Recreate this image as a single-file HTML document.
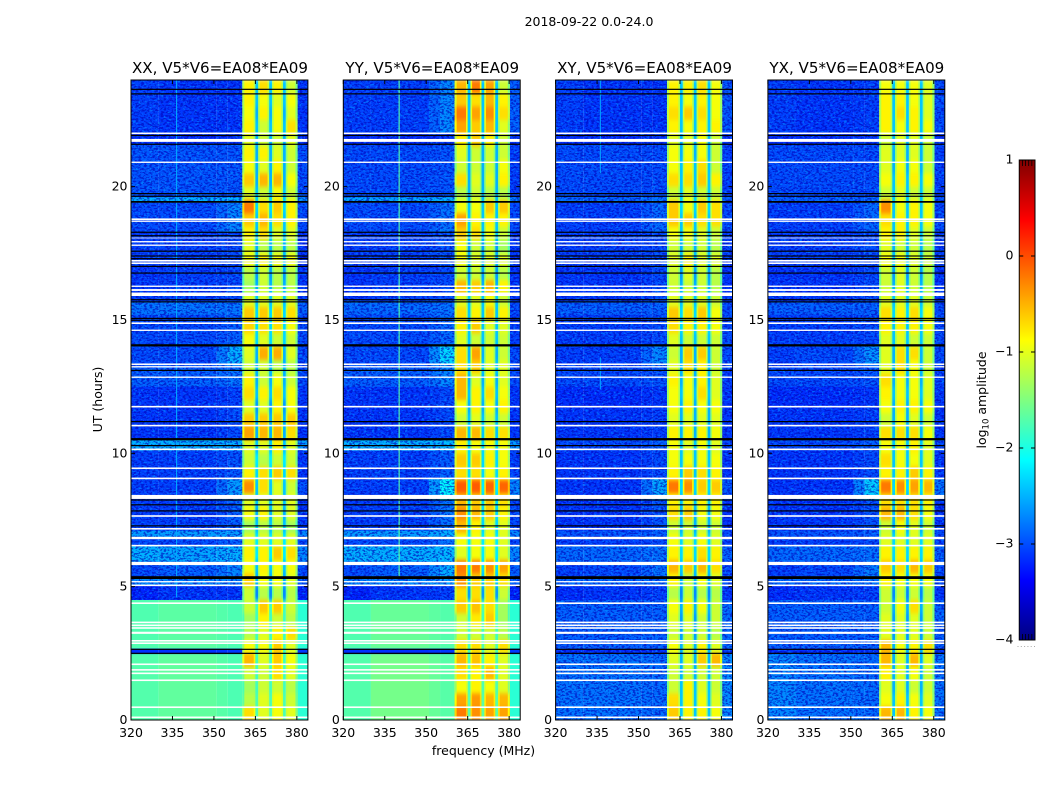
<!DOCTYPE html>
<html lang="en">
<head>
<meta charset="utf-8">
<title>2018-09-22 0.0-24.0</title>
<style>
html,body{margin:0;padding:0;background:#fff;}
svg{display:block;}
text{font-family:"DejaVu Sans","Liberation Sans",sans-serif;fill:#000;}
</style>
</head>
<body>
<svg id="figure" xmlns="http://www.w3.org/2000/svg" width="1050" height="800" viewBox="0 0 1050 800">
  <defs>
    <filter id="speckle-light" x="0" y="0" width="1" height="1" color-interpolation-filters="sRGB">
      <feTurbulence type="fractalNoise" baseFrequency="0.36 0.58" numOctaves="2" seed="7"/>
      <feColorMatrix type="matrix" values="0 0 0 0 0  0 0 0 0 0.62  0 0 0 0 1  8 0 0 0 -4.5"/>
    </filter>
    <filter id="speckle-dark" x="0" y="0" width="1" height="1" color-interpolation-filters="sRGB">
      <feTurbulence type="fractalNoise" baseFrequency="0.36 0.58" numOctaves="2" seed="23"/>
      <feColorMatrix type="matrix" values="0 0 0 0 0  0 0 0 0 0  0 0 0 0 0.72  0 8 0 0 -3.9"/>
    </filter>
    <filter id="soften" x="0" y="0" width="1" height="1" color-interpolation-filters="sRGB">
      <feGaussianBlur stdDeviation="0 2" edgeMode="duplicate"/>
    </filter>
    <linearGradient id="jet-gradient" x1="0" y1="1" x2="0" y2="0"></linearGradient>
  </defs>
  <text x="589" y="26" font-size="12.5" text-anchor="middle">2018-09-22 0.0-24.0</text>
  <text x="483.5" y="755" font-size="12.5" text-anchor="middle">frequency (MHz)</text>
  <text x="0" y="0" font-size="12.5" text-anchor="middle" transform="translate(102 399.5) rotate(-90)">UT (hours)</text>
  <text x="0" y="0" font-size="12.5" text-anchor="middle" transform="translate(986 400) rotate(-90)">log<tspan font-size="8.5" dy="2.5">10</tspan><tspan dy="-2.5"> amplitude</tspan></text>
  <g id="panels"></g>
  <g id="colorbar"></g>
</svg>
<script>
// ---------- axis tick labels ----------
const freqTicks = [320, 335, 350, 365, 380];
const hourTicks = [0, 5, 10, 15, 20];
const colorbarTicks = [1, 0, -1, -2, -3, -4];

// ---------- background time bands (hours, bottom-up edges) ----------
const bandEdges = [0,2.47,2.68,4.5,5.05,5.3,5.8,5.95,6.55,6.8,7.1,8.25,9.05,10.1,10.5,11.7,12.5,13.3,14.05,15.2,15.7,17,18.3,19.4,19.6,21.6,22,24];

// Background level per band: [320-330, 330-351, 355-360, 380-384 MHz], log10 amplitude
const xxBands = [
[-1.72,-1.65,-1.75,-1.92],[-3.15,-3.15,-3.1,-3.1],[-1.74,-1.68,-1.75,-1.92],[-3.2,-3.1,-3.1,-3.2],[-2.7,-2.7,-2.7,-2.9],
[-3.0,-2.9,-2.7,-3.0],[-2.7,-2.7,-2.7,-2.8],[-2.5,-2.55,-2.5,-2.7],[-3.0,-3.0,-2.9,-3.0],[-2.6,-2.6,-2.6,-2.7],
[-3.05,-3.05,-2.9,-3.1],[-3.05,-3.05,-2.6,-3.0],[-3.05,-3.05,-2.95,-3.1],[-2.5,-2.5,-2.5,-2.6],[-3.1,-3.1,-3.0,-3.1],
[-3.1,-3.1,-3.05,-3.1],[-2.9,-2.9,-2.8,-3.0],[-3.0,-3.0,-2.5,-3.0],[-3.0,-3.0,-2.9,-3.0],[-2.8,-2.8,-2.8,-2.9],
[-3.1,-3.05,-3.0,-3.1],[-3.05,-3.05,-3.0,-3.1],[-3.0,-3.0,-2.7,-3.0],[-2.5,-2.5,-2.5,-2.6],[-2.95,-2.95,-2.95,-3.0],
[-3.15,-3.15,-3.1,-3.1],[-3.05,-3.1,-3.1,-3.1]];
const yyBands = [
[-1.72,-1.55,-1.7,-1.92],[-3.15,-3.15,-3.1,-3.1],[-1.74,-1.62,-1.72,-1.92],[-3.2,-3.1,-3.05,-3.2],[-2.7,-2.7,-2.6,-2.9],
[-3.0,-2.9,-2.5,-2.9],[-2.7,-2.7,-2.6,-2.8],[-2.5,-2.5,-2.45,-2.7],[-3.0,-3.0,-2.8,-3.0],[-2.6,-2.6,-2.5,-2.7],
[-3.05,-3.05,-2.8,-3.0],[-3.05,-3.05,-2.15,-2.7],[-3.05,-3.05,-2.9,-3.05],[-2.5,-2.5,-2.45,-2.6],[-3.1,-3.1,-3.0,-3.1],
[-3.1,-3.1,-3.0,-3.1],[-2.9,-2.9,-2.7,-3.0],[-3.0,-3.0,-2.3,-3.0],[-3.0,-3.0,-2.85,-3.05],[-2.85,-2.85,-2.8,-3.0],
[-3.1,-3.05,-3.0,-3.1],[-3.05,-3.05,-2.95,-3.1],[-3.0,-3.0,-2.8,-3.0],[-2.55,-2.55,-2.5,-2.7],[-3.0,-3.0,-2.95,-3.05],
[-3.15,-3.15,-3.1,-3.1],[-3.05,-3.05,-2.7,-2.9]];
const xyBands = [
[-2.8,-2.8,-2.85,-2.7],[-3.15,-3.15,-3.1,-3.1],[-2.9,-2.9,-2.9,-2.85],[-3.15,-3.1,-3.05,-3.1],[-2.85,-2.85,-2.8,-2.95],
[-3.05,-3.0,-2.8,-3.0],[-2.9,-2.9,-2.8,-2.9],[-2.85,-2.85,-2.8,-2.9],[-3.05,-3.05,-3.0,-3.05],[-2.95,-2.95,-2.9,-3.0],
[-3.1,-3.1,-2.95,-3.1],[-3.1,-3.1,-2.55,-2.95],[-3.1,-3.1,-3.0,-3.1],[-3.0,-3.0,-2.9,-3.0],[-3.1,-3.1,-3.05,-3.1],
[-3.15,-3.15,-3.1,-3.1],[-3.0,-3.0,-2.95,-3.05],[-3.05,-3.05,-2.7,-3.0],[-3.05,-3.05,-3.0,-3.0],[-2.9,-2.9,-2.9,-3.0],
[-3.1,-3.1,-3.0,-3.1],[-3.05,-3.05,-3.0,-3.05],[-3.05,-3.05,-2.85,-3.0],[-2.85,-2.85,-2.8,-2.9],[-3.0,-3.0,-3.0,-3.05],
[-3.15,-3.15,-3.1,-3.1],[-3.05,-3.1,-3.1,-2.95]];
const yxBands = [
[-2.7,-2.8,-2.85,-2.8],[-3.15,-3.15,-3.1,-3.1],[-2.9,-2.9,-2.9,-2.9],[-3.15,-3.1,-3.05,-3.1],[-2.85,-2.85,-2.8,-2.95],
[-3.05,-3.0,-2.75,-3.0],[-2.9,-2.9,-2.8,-2.9],[-2.85,-2.85,-2.8,-2.9],[-3.05,-3.05,-3.0,-3.05],[-2.95,-2.95,-2.9,-3.0],
[-3.1,-3.1,-2.95,-3.1],[-3.1,-3.1,-2.35,-2.8],[-3.1,-3.1,-3.0,-3.1],[-3.0,-3.0,-2.9,-3.0],[-3.1,-3.1,-3.05,-3.1],
[-3.15,-3.15,-3.1,-3.1],[-3.0,-3.0,-2.95,-3.05],[-3.05,-3.0,-2.65,-3.0],[-3.05,-3.05,-3.0,-3.0],[-2.9,-2.9,-2.9,-3.0],
[-3.1,-3.1,-3.0,-3.1],[-3.05,-3.05,-3.0,-3.05],[-3.05,-3.05,-2.85,-3.0],[-2.9,-2.9,-2.85,-2.95],[-3.0,-3.0,-3.0,-3.05],
[-3.15,-3.15,-3.1,-3.1],[-3.05,-3.1,-3.05,-3.0]];

// ---------- bright subbands, half-hour rows from 0 h upward ----------
// Each row: [360-365, 366-370, 371-375, 376-380 MHz]
const xxSubbands = [
[-.5,-.8,-.7,-.8],[-1,-.8,-.7,-.9],[-1.1,-.9,-.9,-1],[-.9,-.9,-.5,-.8],[-.3,-.8,-.4,-.7],[-.7,-.7,-.4,-.8],
[-1,-.8,-.6,-.5],[-1.1,-.6,-.9,-1],[-.9,-.4,-.4,-.9],[-.9,-1,-1,-1],[-.4,-.7,-.7,-.8],[-.7,-.6,-.7,-.7],
[-.6,-.6,-.4,-.5],[-.8,-.8,-.8,-.8],[-1.1,-1,-1,-1.1],[-.7,-.6,-.8,-.8],[-.8,-.8,-.8,-.8],[-.1,-.5,-.8,-.9],
[-.6,-.5,-.4,-.5],[-.9,-1,-.9,-.9],[-.8,-.8,-.6,-.8],[-.2,-.3,-.3,-.5],[-.4,-.4,-.4,-.4],[-.8,-.8,-.6,-.7],
[-.5,-.6,-.5,-.7],[-.6,-.9,-.7,-.9],[-.9,-.9,-1,-1],[-.8,-.25,-.25,-.8],[-.7,-.8,-.9,-.9],[-.45,-.5,-.5,-.7],
[-.4,-.4,-.4,-.5],[-.8,-.8,-.8,-.8],[-1.1,-.9,-1,-1],[-1,-.9,-1,-1],[-.7,-.6,-.7,-.7],[-.8,-1,-1,-1],
[-.6,-.5,-.8,-.8],[-.4,-.3,-.5,-.6],[0,-.5,-.4,-.6],[-.8,-.9,-.7,-.9],[-.4,-.3,-.3,-.7],[-.7,-.8,-.6,-.9],
[-.6,-.6,-.8,-.9],[-.8,-.9,-.9,-.8],[-.6,-.9,-.7,-.5],[-.7,-.6,-.7,-.8],[-.6,-.7,-.8,-.7],[-.6,-.5,-.6,-.9]];
const yySubbands = [
[0,-.1,-.2,-.2],[-.2,-.15,-.3,-.3],[-.7,-.6,-.7,-.8],[-.5,-.6,-.3,-.8],[-.3,-.35,-.6,-.8],[-.5,-.5,-.8,-.5],
[-.9,-.9,-.9,-1],[-.9,-.55,-.4,-1.1],[-.4,-.35,-.5,-1.1],[-.5,-.5,-.5,-.9],[-.1,-.4,-.4,-.5],[0,0,-.1,-.2],
[-.8,-.7,-.7,-.8],[-.7,-.7,-.7,-.8],[-.3,-.6,-.8,-.8],[-.1,-.3,-.4,-.6],[-.3,-.4,-.4,-.5],[.15,.15,.1,.1],
[-.5,-.5,-.7,-.6],[-.4,-.4,-.6,-.7],[-.6,-.7,-.7,-.7],[-.3,-.3,-.5,-.5],[-.9,-.8,-.9,-.9],[-.7,-.6,-.7,-.6],
[-.3,-.6,-.5,-.7],[-.3,-.8,-.7,-.8],[-.5,-.4,-.8,-.8],[-.5,-.2,-.8,-.9],[-.8,-.9,-.9,-.9],[-.6,-.4,-.8,-.8],
[-.5,-.6,-.4,-.6],[-.8,-.8,-.7,-.9],[-.3,-.4,-.3,-.6],[-.9,-.9,-.9,-1],[-.7,-.8,-.8,-.8],[-.7,-.9,-.9,-1.1],
[-.4,-.5,-.7,-.9],[-.2,-.6,-.6,-.6],[-.7,-.7,-.4,-.4],[-1,-.9,-1,-1],[-.5,-.8,-.8,-.6],[-.9,-.9,-.9,-.7],
[-.8,-.9,-.9,-.9],[-.6,-.4,-.6,-.9],[-.2,-.4,-.3,-.8],[0,-.2,-.1,-.5],[-.4,-.5,-.3,-.6],[-.3,0,-.2,-.9]];
const xySubbands = [
[-.4,-.6,-.6,-.7],[-.5,-.6,-.7,-.8],[-.9,-.6,-.8,-.9],[-.9,-.9,-.9,-.9],[-.8,-.8,-.4,-.3],[-.7,-.8,-.6,-.8],
[-.9,-.9,-.9,-1],[-.8,-.8,-.9,-.9],[-.7,-.6,-.7,-.9],[-1,-.9,-1,-1],[-.6,-.9,-.7,-.8],[-.3,-.4,-.3,-.5],
[-.6,-.6,-.5,-.6],[-.7,-.8,-.7,-.8],[-.9,-.9,-.9,-.9],[-.5,-.4,-.7,-.7],[-.6,-.6,-.6,-.6],[0,-.1,-.4,-.4],
[-.6,-.4,-.5,-.6],[-.7,-.7,-.7,-.7],[-.7,-.8,-.7,-.8],[-.6,-.6,-.6,-.7],[-.8,-.8,-.8,-.8],[-.7,-.6,-.7,-.7],
[-.7,-.7,-.5,-.8],[-.6,-.7,-.6,-.8],[-.8,-.5,-.6,-.9],[-.9,-.4,-.4,-.9],[-.8,-.9,-.9,-.9],[-.5,-.6,-.6,-.7],
[-.4,-.5,-.4,-.7],[-.8,-.8,-.8,-.9],[-.9,-.9,-.9,-1],[-.9,-.8,-.9,-1],[-.8,-.6,-.8,-.8],[-.9,-.9,-.9,-1],
[-.7,-.7,-.8,-.9],[-.4,-.4,-.5,-.5],[-.4,-.7,-.4,-.5],[-.9,-.8,-.9,-.9],[-.5,-.5,-.4,-.6],[-.7,-.6,-.5,-.9],
[-.7,-.7,-.7,-.9],[-.8,-.8,-.7,-.9],[-.6,-.7,-.6,-.6],[-.5,-.4,-.5,-.7],[-.6,-.7,-.6,-.7],[-.6,-.6,-.5,-.7]];
const yxSubbands = [
[-.3,-.3,-.6,-.7],[-.7,-.6,-.7,-.8],[-.8,-.8,-.9,-.9],[-.6,-.8,-.7,-.9],[-.3,-.8,-.3,-.8],[-.3,-.7,-.6,-.5],
[-.8,-.8,-.8,-.9],[-.8,-.8,-.8,-.9],[-.9,-.7,-.5,-.9],[-.9,-.9,-.9,-1],[-.6,-.7,-.7,-.7],[-.4,-.5,-.3,-.4],
[-.6,-.6,-.6,-.6],[-.8,-.8,-.8,-.8],[-.9,-.7,-.8,-.9],[-.3,-.3,-.5,-.7],[-.5,-.5,-.5,-.6],[0,-.1,-.2,-.3],
[-.6,-.6,-.4,-.6],[-.5,-.7,-.7,-.8],[-.7,-.7,-.6,-.8],[-.5,-.5,-.5,-.7],[-.9,-.7,-.8,-.9],[-.7,-.6,-.6,-.7],
[-.6,-.7,-.7,-.8],[-.5,-.7,-.7,-.8],[-.8,-.5,-.7,-.9],[-.8,-.5,-.5,-.9],[-.8,-.8,-.9,-.9],[-.6,-.6,-.6,-.7],
[-.5,-.6,-.5,-.7],[-.8,-.8,-.8,-.9],[-.9,-.8,-.9,-1],[-.9,-.8,-.9,-1],[-.7,-.7,-.8,-.9],[-.8,-.9,-.9,-1],
[-.6,-.6,-.8,-.9],[-.5,-.6,-.6,-.7],[-.1,-.7,-.6,-.7],[-.9,-.8,-.9,-.9],[-.7,-.6,-.6,-.7],[-.8,-.7,-.7,-.9],
[-.8,-.8,-.8,-.9],[-.9,-.8,-.8,-.9],[-.6,-.7,-.6,-.7],[-.6,-.5,-.6,-.8],[-.6,-.6,-.7,-.8],[-.7,-.7,-.7,-.8]];

// Level of the dark channels at 365, 370 and 375 MHz, half-hour rows from 0 h upward
const xxNotch = [-1.75,-1.75,-1.8,-1.8,-1.8,-1.8,-1.8,-1.8,-1.8,-2.7,-2.5,-2.4,-2.2,-2.2,-2.4,-2.5,-2.4,-2.4,-2.3,-2.2,-2.4,-2.5,-2.5,-2.6,-2.4,-2.5,-2.5,-2.5,-2.3,-2.3,-2.3,-2.4,-2.5,-2.6,-2.4,-2.5,-2.4,-2.4,-2.3,-2.4,-2.5,-2.5,-2.5,-2.5,-2.4,-2.5,-2.4,-2.4];
const yyNotch = [-1.7,-1.7,-1.75,-1.75,-1.75,-1.75,-1.8,-1.8,-1.75,-2.6,-2.4,-2.3,-2.2,-2.2,-2.3,-2.3,-2.3,-2.2,-2.3,-2.3,-2.3,-2.4,-2.4,-2.5,-2.4,-2.5,-2.4,-2.5,-2.4,-2.4,-2.4,-2.4,-2.5,-2.6,-2.5,-2.6,-2.4,-2.4,-2.4,-2.5,-2.5,-2.5,-2.5,-2.5,-2.4,-2.4,-2.4,-2.4];
const xyNotch = [-2.4,-2.4,-2.4,-2.5,-2.5,-2.5,-2.6,-2.6,-2.5,-2.7,-2.5,-2.4,-2.3,-2.3,-2.5,-2.5,-2.4,-2.3,-2.4,-2.4,-2.4,-2.5,-2.5,-2.5,-2.4,-2.5,-2.5,-2.5,-2.4,-2.3,-2.3,-2.4,-2.5,-2.6,-2.4,-2.5,-2.4,-2.4,-2.3,-2.4,-2.4,-2.4,-2.5,-2.5,-2.4,-2.4,-2.4,-2.4];
const yxNotch = [-2.4,-2.4,-2.5,-2.5,-2.5,-2.5,-2.6,-2.6,-2.5,-2.7,-2.5,-2.4,-2.3,-2.3,-2.5,-2.5,-2.4,-2.3,-2.4,-2.4,-2.4,-2.5,-2.5,-2.5,-2.4,-2.5,-2.5,-2.5,-2.4,-2.4,-2.3,-2.4,-2.5,-2.6,-2.4,-2.5,-2.4,-2.4,-2.4,-2.4,-2.4,-2.5,-2.5,-2.5,-2.4,-2.4,-2.4,-2.4];

// Narrow interference channels: [MHz, start hour, end hour, level]
const xxSpurs = [[336.3,4.6,24,-2.55]];
const yySpurs = [[340,5.4,24,-1.7]];
const xySpurs = [[336,20.5,24,-2.6],[336,12.4,13.6,-2.6]];
const yxSpurs = [];

// ---------- flagged time ranges, [start hour, end hour] ----------
const blankedRanges = [[.07,.13],[.45,.51],[1.46,1.52],[1.72,1.78],[1.85,1.91],[2.06,2.12],[2.85,2.91],[2.94,3],[3.23,3.31],[3.42,3.48],[3.52,3.58],[3.63,3.69],[4.35,4.41],[5.02,5.08],[5.16,5.21],[5.81,5.93],[6.51,6.57],[6.78,6.87],[7.14,7.2],[7.62,7.68],[8.29,8.44],[9.03,9.09],[9.41,9.47],[10.12,10.18],[11.01,11.07],[11.72,11.78],[12.83,12.88],[13.22,13.27],[13.31,13.37],[14.59,14.64],[14.85,14.91],[15.9,16.03],[16.09,16.16],[16.24,16.29],[17.1,17.16],[17.19,17.25],[17.78,17.83],[17.91,17.96],[18.06,18.09],[18.68,18.73],[18.75,18.81],[20.89,20.94],[21.68,21.79],[21.97,22.03]];
const zeroRanges = [[2.47,2.53],[2.62,2.68],[5.28,5.4],[7.25,7.31],[7.81,7.87],[8.04,8.1],[8.22,8.28],[10.26,10.32],[10.48,10.58],[11.16,11.22],[13.08,13.14],[14,14.1],[14.96,15.02],[15.03,15.09],[15.65,15.71],[15.73,15.79],[16.73,16.79],[16.98,17.04],[17.27,17.33],[17.37,17.43],[17.55,17.61],[18.13,18.19],[18.26,18.32],[19.39,19.47],[19.61,19.67],[19.71,19.77],[21.56,21.62],[21.89,21.95],[23.45,23.51],[23.62,23.68]];

// ---------- panel titles ----------
const panelTitles = ["XX, V5*V6=EA08*EA09","YY, V5*V6=EA08*EA09","XY, V5*V6=EA08*EA09","YX, V5*V6=EA08*EA09"];
const panelKeys = ["xx","yy","xy","yx"];
const panelBands = [xxBands, yyBands, xyBands, yxBands];
const panelSubbands = [xxSubbands, yySubbands, xySubbands, yxSubbands];
const panelNotches = [xxNotch, yyNotch, xyNotch, yxNotch];
const panelSpurs = [xxSpurs, yySpurs, xySpurs, yxSpurs];
const panelSpeckleFrom = [4.5, 4.5, 0, 0];

// ---------- layout ----------
const NS = "http://www.w3.org/2000/svg";
const axTop = 80, axBottom = 720, axWidth = 176.9, axStep = 212.3, axFirst = 131;
const freqMin = 320, freqMax = 384, hourMin = 0, hourMax = 24;
const levelMin = -4, levelMax = 1;
const subbandEdges = [[360.3,365],[366,370],[371,375],[376,380.2]];
const notchEdges = [[365,366],[370,371],[375,376]];
const bgEdges = [[320,330],[330,351],[355,360.3],[380.2,384]];
const blendEdge = [351,355];
const rowHours = 0.5;
const subbandOffset = -0.22;
const flankWidth = 0.6;
const flankMix = 0.35;
const outerEdgeWidth = 0.7;
const outerEdgeDrop = 0.45;

function jetChannel(t, offset){
  return Math.max(0, Math.min(1, 1.5 - Math.abs(4 * t - offset)));
}
function jet(value){
  const t = Math.max(0, Math.min(1, (value - levelMin) / (levelMax - levelMin)));
  const r = Math.round(255 * jetChannel(t, 3));
  const g = Math.round(255 * jetChannel(t, 2));
  const b = Math.round(255 * jetChannel(t, 1));
  return "rgb(" + r + "," + g + "," + b + ")";
}
function make(tag, parent){
  const el = document.createElementNS(NS, tag);
  parent.appendChild(el);
  return el;
}
function place(el, x0, x1, y0, y1, fill){
  el.setAttribute("x", x0);
  el.setAttribute("y", y0);
  el.setAttribute("width", x1 - x0);
  el.setAttribute("height", y1 - y0);
  el.setAttribute("fill", fill);
}

function drawPanel(index){
  const key = panelKeys[index];
  const left = axFirst + axStep * index;
  const xScale = f => left + (f - freqMin) / (freqMax - freqMin) * axWidth;
  const yScale = h => axBottom - (h - hourMin) / (hourMax - hourMin) * (axBottom - axTop);

  const panel = make("g", document.getElementById("panels"));
  
  

  // background cells
  const bg = make("g", panel);
  
  
  panelBands[index].forEach((row, r) => {
    const y0 = yScale(bandEdges[r + 1]) - 0.3;
    const y1 = yScale(bandEdges[r]);
    row.forEach((value, c) => {
      const cell = make("rect", bg);
      
      
      place(cell, xScale(bgEdges[c][0]), xScale(bgEdges[c][1]), y0, y1, jet(value));
    });
    const blend = make("rect", bg);
    
    
    place(blend, xScale(blendEdge[0]), xScale(blendEdge[1]), y0, y1, jet((row[1] + row[2]) / 2));
  });

  // speckle texture over the background
  const tex = make("g", panel);
  
  
  [[320,360.3],[380.2,384]].forEach(span => {
    const light = make("rect", tex);
    
    
    place(light, xScale(span[0]), xScale(span[1]), axTop, yScale(panelSpeckleFrom[index]), "#000");
    light.setAttribute("filter", "url(#speckle-light)");
    light.setAttribute("opacity", "0.5");
    const dark = make("rect", tex);
    
    
    place(dark, xScale(span[0]), xScale(span[1]), axTop, yScale(panelSpeckleFrom[index]), "#000");
    dark.setAttribute("filter", "url(#speckle-dark)");
    dark.setAttribute("opacity", "0.6");
  });

  // interference channels
  panelSpurs[index].forEach(spur => {
    const mark = make("rect", tex);
    
    
    place(mark, xScale(spur[0]), xScale(spur[0] + 0.4), yScale(spur[2]), yScale(spur[1]), jet(spur[3]));
  });

  // bright band cells
  const band = make("g", panel);
  
  
  band.setAttribute("filter", "url(#soften)");
  panelSubbands[index].forEach((row, r) => {
    const y0 = yScale((r + 1) * rowHours) - 0.3;
    const y1 = yScale(r * rowHours);
    row.forEach((value, c) => {
      const cell = make("rect", band);
      
      
      place(cell, xScale(subbandEdges[c][0]), xScale(subbandEdges[c][1]) + 0.2, y0, y1, jet(value + subbandOffset));
    });
    const outerL = make("rect", band);
    
    
    place(outerL, xScale(subbandEdges[0][0]), xScale(subbandEdges[0][0] + outerEdgeWidth), y0, y1, jet(row[0] + subbandOffset - outerEdgeDrop));
    const outerR = make("rect", band);
    
    
    place(outerR, xScale(subbandEdges[3][1] - outerEdgeWidth), xScale(subbandEdges[3][1]), y0, y1, jet(row[3] + subbandOffset - outerEdgeDrop));
    const level = panelNotches[index][r];
    notchEdges.forEach((edge, n) => {
      const flankL = make("rect", band);
      
      
      place(flankL, xScale(edge[0] - flankWidth), xScale(edge[0]), y0, y1, jet(level * flankMix + row[n] * (1 - flankMix)));
      const flankR = make("rect", band);
      
      
      place(flankR, xScale(edge[1]), xScale(edge[1] + flankWidth), y0, y1, jet(level * flankMix + row[n + 1] * (1 - flankMix)));
      const notch = make("rect", band);
      
      
      place(notch, xScale(edge[0]), xScale(edge[1]), y0, y1, jet(level));
    });
  });

  // flagged rows
  const flags = make("g", panel);
  
  
  blankedRanges.forEach(range => {
    const line = make("rect", flags);
    
    
    place(line, left, left + axWidth, yScale(range[1]), yScale(range[0]), "#fff");
  });
  zeroRanges.forEach(range => {
    const line = make("rect", flags);
    
    
    place(line, left, left + axWidth, yScale(range[1]) + 0.2, yScale(range[0]) - 0.2, "#000");
  });

  // frame
  const frame = make("rect", panel);
  
  
  place(frame, left, left + axWidth, axTop, axBottom, "none");
  frame.setAttribute("stroke", "#000");
  frame.setAttribute("stroke-width", "1");

  // x ticks
  freqTicks.forEach(f => {
    const x = xScale(f);
    [[axBottom, axBottom - 4], [axTop, axTop + 4]].forEach(pair => {
      const tick = make("line", panel);
      
      
      tick.setAttribute("x1", x);
      tick.setAttribute("x2", x);
      tick.setAttribute("y1", pair[0]);
      tick.setAttribute("y2", pair[1]);
      tick.setAttribute("stroke", "#000");
    });
    const label = make("text", panel);
    
    
    label.setAttribute("x", x);
    label.setAttribute("y", 737);
    label.setAttribute("font-size", "12.5");
    label.setAttribute("text-anchor", "middle");
    label.textContent = f;
  });

  // y ticks
  hourTicks.forEach(h => {
    const y = yScale(h);
    [[left, left + 4], [left + axWidth, left + axWidth - 4]].forEach(pair => {
      const tick = make("line", panel);
      
      
      tick.setAttribute("x1", pair[0]);
      tick.setAttribute("x2", pair[1]);
      tick.setAttribute("y1", y);
      tick.setAttribute("y2", y);
      tick.setAttribute("stroke", "#000");
    });
    const label = make("text", panel);
    
    
    label.setAttribute("x", left - 3.5);
    label.setAttribute("y", y + 4);
    label.setAttribute("font-size", "12.5");
    label.setAttribute("text-anchor", "end");
    label.textContent = h;
  });

  const title = make("text", panel);
  
  
  title.setAttribute("x", left + axWidth / 2 + 0.5);
  title.setAttribute("y", 73);
  title.setAttribute("font-size", "15.1");
  title.setAttribute("text-anchor", "middle");
  title.textContent = panelTitles[index];
}

function drawColorbar(){
  const cbLeft = 1019.25, cbRight = 1035, cbTop = 160, cbBottom = 640;
  const cbScale = v => cbBottom - (v - levelMin) / (levelMax - levelMin) * (cbBottom - cbTop);
  const group = document.getElementById("colorbar");
  const gradient = document.getElementById("jet-gradient");
  for (let i = 0; i <= 40; i++) {
    const stop = make("stop", gradient);
    stop.setAttribute("offset", i / 40);
    stop.setAttribute("stop-color", jet(levelMin + (levelMax - levelMin) * i / 40));
  }
  const bar = make("rect", group);
  
  
  place(bar, cbLeft, cbRight, cbTop, cbBottom, "url(#jet-gradient)");
  bar.setAttribute("stroke", "#000");
  bar.setAttribute("stroke-width", "1");

  colorbarTicks.forEach(v => {
    const y = cbScale(v);
    if (v !== levelMin && v !== levelMax) {
      [[cbLeft, cbLeft + 4], [cbRight, cbRight - 4]].forEach(pair => {
        const tick = make("line", group);
        
        
        tick.setAttribute("x1", pair[0]);
        tick.setAttribute("x2", pair[1]);
        tick.setAttribute("y1", y);
        tick.setAttribute("y2", y);
        tick.setAttribute("stroke", "#000");
      });
    }
    const label = make("text", group);
    
    
    label.setAttribute("x", 1013.5);
    label.setAttribute("y", y + 3.5);
    label.setAttribute("font-size", "12.5");
    label.setAttribute("text-anchor", "end");
    label.textContent = v < 0 ? "\u2212" + Math.abs(v) : String(v);
  });

  [cbTop, cbBottom].forEach(edge => {
    const dir = edge === cbTop ? 6 : -6;
    for (let i = 1; i <= 4; i++) {
      const x = cbLeft + (cbRight - cbLeft) * i / 5;
      const minor = make("line", group);
      
      
      minor.setAttribute("x1", x);
      minor.setAttribute("x2", x);
      minor.setAttribute("y1", edge);
      minor.setAttribute("y2", edge + dir);
      minor.setAttribute("stroke", "#000");
      minor.setAttribute("stroke-width", "0.8");
    }
  });

  for (let i = 0; i < 6; i++) {
    const dot = make("rect", group);
    
    
    place(dot, 1017.5 + i * 3.3, 1018.5 + i * 3.3, 646, 647, "#aaa");
  }
}

panelKeys.forEach((k, i) => drawPanel(i));
drawColorbar();
</script>
</body>
</html>
